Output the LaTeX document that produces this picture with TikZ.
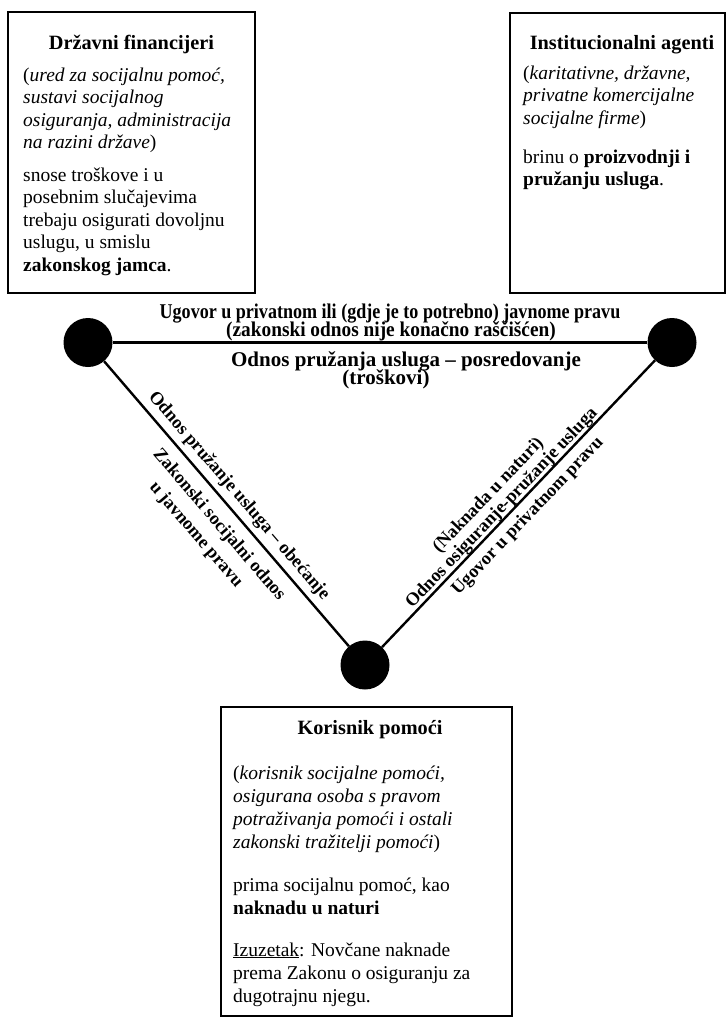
\documentclass[tikz,border=0pt]{standalone}
\usepackage{fontspec}
\usepackage{graphicx}
\setmainfont{Liberation Serif}
\newcommand{\mypar}[1]{\parbox[t]{280pt}{\raggedright #1}}
\begin{document}
\begin{tikzpicture}[x=1pt,y=-1pt,
  boxframe/.style={draw, line width=2.2pt, inner sep=0pt, outer sep=0pt, anchor=north west},
  dot/.style={circle, fill=black, minimum size=49pt, inner sep=0pt},
  conn/.style={line width=2.4pt},
  boxtitle/.style={anchor=base, inner sep=0pt, font=\fontsize{20.3}{22.5}\selectfont\bfseries},
  boxtext/.style={anchor=base west, inner sep=0pt, font=\fontsize{19.5}{22.5}\selectfont},
  boxtextb/.style={anchor=base west, inner sep=0pt, font=\fontsize{19.5}{23}\selectfont},
  toplbl/.style={anchor=base, inner sep=0pt, font=\fontsize{21}{21}\selectfont\bfseries},
  diaglbl/.style={anchor=base, inner sep=0pt, sloped, font=\fontsize{18.3}{18.3}\selectfont\bfseries},
]
\useasboundingbox (0,0) rectangle (727,1018);

% boxes
\node[boxframe, minimum width=247pt, minimum height=281pt] (finbox) at (8,12) {};
\node[boxframe, minimum width=215pt, minimum height=280pt] (instbox) at (510,13) {};
\node[boxframe, minimum width=291pt, minimum height=309pt] (korbox) at (221,707) {};

% left box text
\node[boxtitle] (fint) at (131.5,49) {Državni financijeri};
\node[boxtext] (fini) at (23,81) {\mypar{({\itshape ured za socijalnu pomoć,\\ sustavi socijalnog\\ osiguranja, administracija\\ na razini države\/})}};
\node[boxtext] (finb) at (23,181) {\mypar{snose troškove i u\\ posebnim slučajevima\\ trebaju osigurati dovoljnu\\ uslugu, u smislu\\ \textbf{zakonskog jamca}.}};

% right box text
\node[boxtitle] (instt) at (622,49) {Institucionalni agenti};
\node[boxtext] (insti) at (523,79) {\mypar{({\itshape karitativne, državne,\\ privatne komercijalne\\ socijalne firme\/})}};
\node[boxtext] (instb) at (523,163) {\mypar{brinu o \textbf{proizvodnji i}\\ \textbf{pružanju usluga}.}};

% bottom box text
\node[boxtitle] (kort) at (370,734) {Korisnik pomoći};
\node[boxtextb] (kori) at (233,779) {\mypar{({\itshape korisnik socijalne pomoći,\\ osigurana osoba s pravom\\ potraživanja pomoći i ostali\\ zakonski tražitelji pomoći\/})}};
\node[boxtextb] (korb) at (233,891) {\mypar{prima socijalnu pomoć, kao\\ \textbf{naknadu u naturi}}};
\node[boxtextb] (korc) at (233,956) {\mypar{\underline{Izuzetak}: Novčane naknade\\ prema Zakonu o osiguranju za\\ dugotrajnu njegu.}};

% dots
\node[dot] (A) at (88,342.5) {};
\node[dot] (B) at (672,342.5) {};
\node[dot] (C) at (365,665) {};

% connectors
\draw[conn] (A) -- (B);
\draw[conn] (A) --
  node[diaglbl, pos=0.506, yshift=10pt] (l1) {Odnos pružanje usluga – obećanje}
  node[diaglbl, pos=0.53, yshift=-24pt] (l2) {Zakonski socijalni odnos}
  node[diaglbl, pos=0.51, yshift=-48pt] (l3) {u javnome pravu} (C);
\draw[conn] (C) --
  node[diaglbl, pos=0.463, yshift=23pt] (r1) {(Naknada u naturi)}
  node[diaglbl, pos=0.463, yshift=4.5pt] (r2) {Odnos osiguranje-pružanje usluga}
  node[diaglbl, pos=0.493, yshift=-20pt] (r3) {Ugovor u privatnom pravu} (B);

% horizontal labels
\node[toplbl] (t1) at (390,318) {\scalebox{0.86}[1]{Ugovor u privatnom ili (gdje je to potrebno) javnome pravu}};
\node[toplbl] (t2) at (391,336) {\scalebox{0.92}[1]{(zakonski odnos nije konačno raščišćen)}};
\node[toplbl] (t3) at (406,366) {Odnos pružanja usluga – posredovanje};
\node[toplbl] (t4) at (386,384) {(troškovi)};
\end{tikzpicture}
\end{document}
